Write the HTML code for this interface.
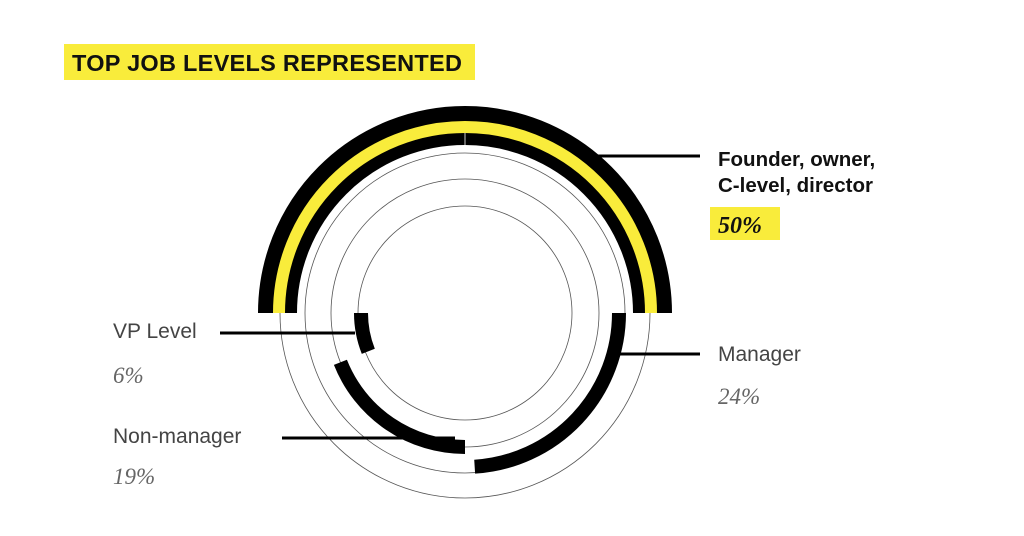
<!DOCTYPE html>
<html><head><meta charset="utf-8"><style>
html,body{margin:0;padding:0;background:#fff;width:1024px;height:536px;overflow:hidden}
svg{display:block}
.lab{font-family:"Liberation Sans",sans-serif;font-size:21px;fill:#444}
.pct{font-family:"Liberation Serif",serif;font-style:italic;font-size:23px;fill:#666}
</style></head><body>
<svg id="chart" width="1024" height="536" viewBox="0 0 1024 536">
<rect x="64" y="44" width="411" height="36" fill="#f9ec3b"/>
<text x="72" y="71" font-family="Liberation Sans, sans-serif" font-weight="bold" font-size="23.5" fill="#111" textLength="390">TOP JOB LEVELS REPRESENTED</text>
<g id="rings"></g>
<g id="arcs"></g>
<g id="labels"></g>
</svg>
<script>
const categories = ["Founder, owner, C-level, director", "Manager", "Non-manager", "VP Level"];
const values = [50, 24, 19, 6];
const valueLabels = ["50%", "24%", "19%", "6%"];

const NS = "http://www.w3.org/2000/svg";
const cx = 465, cy = 313;
const ringRadii = [185, 160, 134, 107];
// arc layout: radius, width, start angle (deg, clockwise from 3 o'clock), direction
const arcCfg = [
  {r: 187.5, w: 39, start: 180, dir: 1},
  {r: 154, w: 14, start: 0, dir: 1},
  {r: 134, w: 14, start: 90, dir: 1},
  {r: 104, w: 14, start: 180, dir: -1}
];
function angle(v){ return v / 100 * 360; }
function pt(r, a){ const t = a * Math.PI / 180; return [cx + r * Math.cos(t), cy + r * Math.sin(t)]; }
function arcPath(r, a0, a1){
  const p0 = pt(r, a0), p1 = pt(r, a1);
  const large = Math.abs(a1 - a0) > 180 ? 1 : 0;
  const sweep = a1 > a0 ? 1 : 0;
  return `M${p0[0]},${p0[1]} A${r},${r} 0 ${large} ${sweep} ${p1[0]},${p1[1]}`;
}
const ringsG = document.getElementById('rings');
ringRadii.forEach((r) => {
  const c = document.createElementNS(NS, 'circle');
  
  
  c.setAttribute('cx', cx); c.setAttribute('cy', cy); c.setAttribute('r', r);
  c.setAttribute('fill', 'none'); c.setAttribute('stroke', '#555'); c.setAttribute('stroke-width', '0.8');
  ringsG.appendChild(c);
});
const arcsG = document.getElementById('arcs');
values.forEach((v, i) => {
  const cfg = arcCfg[i];
  const a0 = cfg.start, a1 = cfg.start + cfg.dir * angle(v);
  const p = document.createElementNS(NS, 'path');
  
  
  p.setAttribute('d', arcPath(cfg.r, a0, a1));
  p.setAttribute('fill', 'none'); p.setAttribute('stroke', '#000'); p.setAttribute('stroke-width', cfg.w);
  arcsG.appendChild(p);
  if (i === 0) {
    const y = document.createElementNS(NS, 'path');
    
    
    y.setAttribute('d', arcPath(186, a0, a1));
    y.setAttribute('fill', 'none'); y.setAttribute('stroke', '#f9ec3b'); y.setAttribute('stroke-width', 12);
    arcsG.appendChild(y);
    const t = document.createElementNS(NS, 'line');
    
    
    t.setAttribute('x1', cx); t.setAttribute('x2', cx); t.setAttribute('y1', cy - 168); t.setAttribute('y2', cy - 180);
    t.setAttribute('stroke', '#fff'); t.setAttribute('stroke-width', 0.8);
    arcsG.appendChild(t);
  }
});
const labelsG = document.getElementById('labels');
function line(x1, y1, x2){
  const l = document.createElementNS(NS, 'line');
  
  
  l.setAttribute('x1', x1); l.setAttribute('y1', y1); l.setAttribute('x2', x2); l.setAttribute('y2', y1);
  l.setAttribute('stroke', '#000'); l.setAttribute('stroke-width', 3);
  labelsG.appendChild(l);
}
function text(x, y, s, cls, extra){
  const t = document.createElementNS(NS, 'text');
  
  
  t.setAttribute('x', x); t.setAttribute('y', y);
  if (cls) t.setAttribute('class', cls);
  if (extra) for (const k in extra) t.setAttribute(k, extra[k]);
  t.textContent = s;
  labelsG.appendChild(t);
}
// Founder
line(590, 156, 700);
text(718, 166, "Founder, owner,", null, {"font-family":"Liberation Sans, sans-serif","font-weight":"bold","font-size":"20.5","fill":"#111"});
text(718, 192, "C-level, director", null, {"font-family":"Liberation Sans, sans-serif","font-weight":"bold","font-size":"20.5","fill":"#111"});
const bx = document.createElementNS(NS, 'rect');


bx.setAttribute('x', 710); bx.setAttribute('y', 207); bx.setAttribute('width', 70); bx.setAttribute('height', 33); bx.setAttribute('fill', '#f9ec3b');
labelsG.appendChild(bx);
text(718, 233, valueLabels[0], null, {"font-family":"Liberation Serif, serif","font-style":"italic","font-weight":"bold","font-size":"24","fill":"#111"});
// Manager
line(620, 354, 700);
text(718, 361, "Manager", "lab");
text(718, 404, valueLabels[1], "pct");
// VP
line(220, 333, 355);
text(113, 338, "VP Level", "lab");
text(113, 383, valueLabels[3], "pct");
// Non-manager
line(282, 438, 455);
text(113, 443, "Non-manager", "lab");
text(113, 484, valueLabels[2], "pct");
</script>
</body></html>
